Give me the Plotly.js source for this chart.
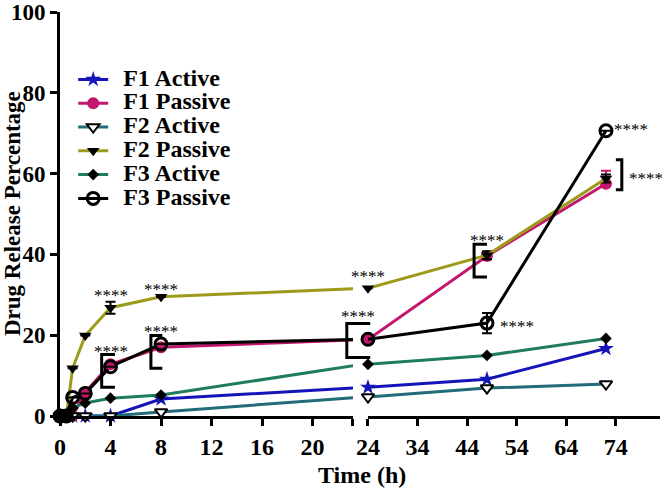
<!DOCTYPE html>
<html>
<head>
<meta charset="utf-8">
<script src="https://cdn.plot.ly/plotly-3.0.1.min.js"></script>
<style>
  html, body { margin: 0; padding: 0; background: #fff; }
  #graph { width: 663px; height: 491px; }
</style>
</head>
<body>
<div id="graph"></div>
<script>
// Sampling times (h)
const times = [0, 0.5, 1, 2, 4, 8, 24, 48, 72];

// Drug release (%) for each formulation
const f1Active  = [0, 0, 0, 0, 0, 4.2, 7.1, 9.1, 16.7];
const f1Passive = [0, 0, 0, 5.9, 12.8, 17.0, 18.9, 39.6, 57.5];
const f2Active  = [0, 0, 0, 0, 0, 1.0, 4.7, 6.9, 7.9];
const f2Passive = [0, 0, 11.8, 19.9, 26.8, 29.5, 31.6, 39.8, 58.8];
const f3Active  = [0, 0, 2.0, 3.2, 4.4, 5.2, 12.8, 15.0, 19.2];
const f3Passive = [0, 0, 4.6, 5.6, 12.2, 17.8, 19.0, 23.0, 70.6];

// Error bars (SD), null = none drawn
const f1PassiveErr = [null, null, null, null, null, null, null, null, 3.2];
const f2PassiveErr = [null, null, null, null, 1.5, null, null, 1.0, 1.0];
const f3PassiveErr = [null, null, null, null, null, null, null, 2.5, null];

const seriesNames = ['F1 Active', 'F1 Passive', 'F2 Active', 'F2 Passive', 'F3 Active', 'F3 Passive'];

// Broken axis: left part 0-23, right part starting at 24
const leftTicks = [0, 4, 8, 12, 16, 20];
const rightTicks = [24, 34, 44, 54, 64, 74];
const yTicks = [0, 20, 40, 60, 80, 100];

document.addEventListener('DOMContentLoaded', function() {

    const serif = 'Liberation Serif, Times New Roman, serif';
    const boldFont = { family: serif, size: 24, color: '#000', weight: 'bold' };

    const styles = [
        { color: '#1414b8', marker: { symbol: 'star', size: 12, color: '#1414b8' } },
        { color: '#c2176d', marker: { symbol: 'circle', size: 12, color: '#c2176d' } },
        { color: '#226b78', marker: { symbol: 'triangle-down', size: 11, color: '#fff', line: { color: '#000', width: 2 } } },
        { color: '#9e9a1c', marker: { symbol: 'triangle-down', size: 11, color: '#000' } },
        { color: '#1f7d5e', marker: { symbol: 'diamond', size: 9, color: '#000' } },
        { color: '#000000', marker: { symbol: 'circle-open', size: 12, color: '#000', line: { width: 3 } } }
    ];
    const values = [f1Active, f1Passive, f2Active, f2Passive, f3Active, f3Passive];
    const errors = [null, f1PassiveErr, null, f2PassiveErr, null, f3PassiveErr];
    const errColors = ['#000', '#c2176d', '#000', '#000', '#000', '#000'];
    // only the upper arm is visible for F1 Passive
    const upperOnly = [false, true, false, false, false, false];

    const leftIdx = times.map((t, i) => i).filter(i => times[i] <= 8);
    const rightIdx = times.map((t, i) => i).filter(i => times[i] >= 24);
    const pick = (arr, idx) => idx.map(i => arr[i]);

    function errorBars(s, idx) {
        const err = errors[s];
        if (!err) return { visible: false };
        const e = { type: 'data', array: pick(err, idx), color: errColors[s], thickness: 2, width: 5 };
        if (upperOnly[s]) {
            e.symmetric = false;
            e.arrayminus = pick(err, idx).map(v => v === null ? null : 0);
        }
        return e;
    }

    // legend text: small legend font keeps rows tight, span makes letters big
    const legendLabel = name => '<span style="font-size:20px">&nbsp;&nbsp;</span><span style="font-size:24px">' + name + '</span>';

    const lineTraces = [];
    const markTraces = [];
    values.forEach(function(v, s) {
        const st = styles[s];
        // left line, clipped at the break
        lineTraces.push({
            x: times, y: v, xaxis: 'x', yaxis: 'y', mode: 'lines',
            line: { color: st.color, width: 3 }, showlegend: false, hoverinfo: 'skip'
        });
        // left markers
        markTraces.push({
            x: pick(times, leftIdx), y: pick(v, leftIdx), xaxis: 'x', yaxis: 'y', mode: 'markers',
            marker: st.marker, cliponaxis: false, showlegend: false,
            error_y: errorBars(s, leftIdx)
        });
        // right segment with legend entry
        markTraces.push({
            x: pick(times, rightIdx), y: pick(v, rightIdx), xaxis: 'x2', yaxis: 'y', mode: 'lines+markers',
            name: legendLabel(seriesNames[s]), line: { color: st.color, width: 3 }, marker: st.marker, cliponaxis: false,
            error_y: errorBars(s, rightIdx)
        });
    });

    // significance stars
    const starFont = { family: serif, size: 17, color: '#000' };
    const stars = [
        { xref: 'x', x: 4, y: 30.7 },
        { xref: 'x', x: 8, y: 32.2 },
        { xref: 'x', x: 4, y: 17.0 },
        { xref: 'x', x: 8, y: 21.9 },
        { xref: 'x2', x: 24, y: 35.4 },
        { xref: 'paper', x: 0.497, y: 25.5 },
        { xref: 'x2', x: 48, y: 44.5 },
        { xref: 'x2', x: 48, y: 23.1, xanchor: 'left', xshift: 11 },
        { xref: 'x2', x: 72, y: 72.0, xanchor: 'left', xshift: 6 },
        { xref: 'x2', x: 72, y: 59.7, xanchor: 'left', xshift: 21 }
    ];
    const annotations = stars.map(a => ({
        text: '****', xref: a.xref, x: a.x, yref: 'y', y: a.y,
        xanchor: a.xanchor || 'center', yanchor: 'middle', xshift: a.xshift || 0, yshift: -4,
        showarrow: false, font: starFont
    }));
    // axis titles placed by hand (the y title sits close to the two-digit labels)
    annotations.push({
        text: 'Time (h)', xref: 'paper', x: 0.503, yref: 'paper', y: -0.145,
        xanchor: 'center', yanchor: 'middle', showarrow: false, font: boldFont
    });
    annotations.push({
        text: 'Drug Release Percentage', xref: 'paper', x: -0.08, yref: 'paper', y: 0.5,
        xanchor: 'center', yanchor: 'middle', textangle: -90, showarrow: false,
        font: Object.assign({}, boldFont, { size: 23 })
    });

    // brackets
    const bk = { color: '#000', width: 3 };
    const shapes = [
        { type: 'path', xref: 'x', yref: 'y', path: 'M 4.35,15.2 L 3.3,15.2 L 3.3,7.1 L 4.35,7.1', line: bk },
        { type: 'path', xref: 'x', yref: 'y', path: 'M 8.1,19.9 L 7.2,19.9 L 7.2,11.8 L 8.1,11.8', line: bk },
        { type: 'path', xref: 'paper', yref: 'y', path: 'M 0.517,22.9 L 0.478,22.9 L 0.478,14.5 L 0.517,14.5', line: bk },
        { type: 'path', xref: 'x2', yref: 'y', path: 'M 48,42.5 L 45.4,42.5 L 45.4,34.4 L 48,34.4', line: bk },
        { type: 'path', xref: 'x2', yref: 'y', path: 'M 74,63.4 L 75.2,63.4 L 75.2,56 L 74,56', line: bk }
    ];

    const axisCommon = {
        showline: true, linewidth: 3, linecolor: '#000', showgrid: false, zeroline: false,
        ticks: 'outside', ticklen: 7, tickwidth: 3, tickcolor: '#000', tickfont: boldFont,
        ticklabeloverflow: 'allow'
    };

    const layout = {
        width: 663, height: 491,
        margin: { l: 60, r: 3, t: 12, b: 75 },
        paper_bgcolor: '#fff', plot_bgcolor: '#fff',
        showlegend: true,
        legend: {
            x: 0.022, y: 0.875, xanchor: 'left', yanchor: 'top',
            font: { family: serif, size: 16, color: '#000', weight: 'bold' },
            bgcolor: 'rgba(0,0,0,0)', tracegroupgap: 0
        },
        xaxis: Object.assign({}, axisCommon, {
            domain: [0, 0.4883], range: [0, 23.2], anchor: 'y',
            tickvals: leftTicks.concat([23.2]), ticktext: leftTicks.map(String).concat([''])
        }),
        xaxis2: Object.assign({}, axisCommon, {
            domain: [0.5133, 1], range: [24, 82.9], anchor: 'y',
            tickvals: rightTicks, ticktext: rightTicks.map(String)
        }),
        yaxis: Object.assign({}, axisCommon, {
            range: [0, 100], tickvals: yTicks, ticktext: yTicks.map(String),
            tickfont: Object.assign({}, boldFont, { size: 23 })
        }),
        annotations: annotations,
        shapes: shapes
    };

    Plotly.newPlot('graph', lineTraces.concat(markTraces), layout, { displayModeBar: false, staticPlot: true });
});
</script>
</body>
</html>
